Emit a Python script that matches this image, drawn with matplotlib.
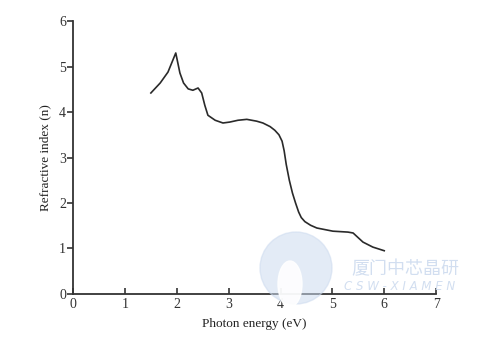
import matplotlib
matplotlib.use("Agg")
import matplotlib.pyplot as plt
from matplotlib.patches import Ellipse

# refractive index vs photon energy
energy = [1.50, 1.68, 1.83, 1.98, 2.06, 2.13, 2.22, 2.31, 2.41, 2.48, 2.54, 2.60,
          2.74, 2.89, 3.02, 3.18, 3.35, 3.54, 3.66, 3.80, 3.89, 3.97, 4.03, 4.07,
          4.11, 4.17, 4.23, 4.29, 4.35, 4.40, 4.47, 4.58, 4.70, 5.01, 5.30, 5.40,
          5.59, 5.78, 6.00]
n_index = [4.42, 4.64, 4.88, 5.30, 4.86, 4.64, 4.51, 4.48, 4.53, 4.42, 4.15, 3.93,
           3.82, 3.76, 3.78, 3.82, 3.84, 3.80, 3.76, 3.68, 3.60, 3.50, 3.36, 3.15,
           2.85, 2.50, 2.22, 2.00, 1.80, 1.68, 1.59, 1.51, 1.45, 1.38, 1.36, 1.34,
           1.14, 1.03, 0.95]

x_ticks = [0, 1, 2, 3, 4, 5, 6, 7]
y_ticks = [0, 1, 2, 3, 4, 5, 6]

plt.rcParams["font.family"] = ["Liberation Serif", "DejaVu Serif"]

fig = plt.figure(figsize=(4.84, 3.47), dpi=100)
ax = fig.add_axes([0.151, 0.153, 0.750, 0.786])

ax.plot(energy, n_index, color="#2a2a2a", lw=1.2)

ax.set_xlim(0, 7)
ax.set_ylim(0, 6)
ax.set_xticks(x_ticks)
ax.set_yticks(y_ticks)
ax.spines["top"].set_visible(False)
ax.spines["right"].set_visible(False)
for side in ["left", "bottom"]:
    ax.spines[side].set_linewidth(1.3)
    ax.spines[side].set_color("#333333")
ax.tick_params(axis="x", direction="in", length=4, width=1.2, labelsize=10,
               colors="#333333", pad=3)
ax.tick_params(axis="y", direction="out", length=4, width=1.2, labelsize=10,
               colors="#333333", pad=1)
ax.set_xlabel("Photon energy (eV)", fontsize=9.5, color="#222222", labelpad=5)
ax.set_ylabel("Refractive index (n)", fontsize=9.5, color="#222222", labelpad=6)

# faint watermark
wm = "#cddbef"
fig.patches.append(Ellipse((296 / 484, 1 - 268 / 347), 72 / 484, 72 / 347,
                           transform=fig.transFigure, color=wm, alpha=0.55,
                           zorder=5))
fig.patches.append(Ellipse((290 / 484, 1 - 284 / 347), 24 / 484, 46 / 347,
                           transform=fig.transFigure, color="white",
                           alpha=0.9, zorder=6))
fig.text(405 / 484, 1 - 269 / 347, "厦门中芯晶研", fontsize=13, color=wm,
         ha="center", va="center", style="italic", alpha=0.9,
         family=["Noto Sans CJK SC", "DejaVu Sans"])
fig.text(400 / 484, 1 - 287 / 347, "C S W - X I A M E N", fontsize=8.5,
         color=wm, ha="center", va="center", style="italic", alpha=0.9,
         family=["DejaVu Sans"])

fig.savefig("out.png", dpi=100)
